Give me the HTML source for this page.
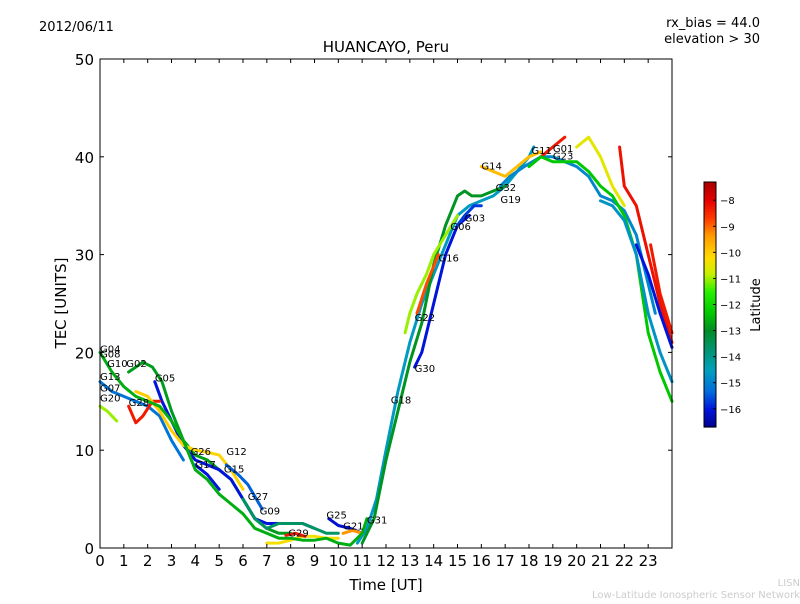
<!DOCTYPE html>
<html><head><meta charset="utf-8"><style>
body{margin:0;background:#fff;font-family:"DejaVu Sans","Liberation Sans",sans-serif}
svg text{font-family:"DejaVu Sans","Liberation Sans",sans-serif}
</style></head><body>
<svg id="c" width="800" height="600" xmlns="http://www.w3.org/2000/svg">
<rect width="800" height="600" fill="#fff"/>
<text x="39" y="31" font-size="13">2012/06/11</text>
<text x="760" y="27" font-size="13" text-anchor="end">rx_bias = 44.0</text>
<text x="760" y="43" font-size="13" text-anchor="end">elevation &gt; 30</text>
<text x="386" y="52" font-size="15" text-anchor="middle">HUANCAYO, Peru</text>
<text x="386" y="590" font-size="15" text-anchor="middle">Time [UT]</text>
<text x="66" y="303" font-size="15" text-anchor="middle" transform="rotate(-90 66 303)">TEC [UNITS]</text>
<text x="800" y="586" font-size="10" fill="#ccc" text-anchor="end">LISN</text>
<text x="800" y="598" font-size="10" fill="#ccc" text-anchor="end">Low-Latitude Ionospheric Sensor Network</text>
<g id="plot"></g>
<g id="cbar"></g>
</svg>
<script>
const xTicks=[0,1,2,3,4,5,6,7,8,9,10,11,12,13,14,15,16,17,18,19,20,21,22,23];
const yTicks=[0,10,20,30,40,50];
const cbTicks=[-8,-9,-10,-11,-12,-13,-14,-15,-16];
const names=["G04","G07","G02","G05","G28","G08","G26","G17","G15","G27","G29","G09","G25","G21","G31","G18","G22","G30","G16","G06","G14","G19","G01","S26","S27","S28","S29","S30","S31","G13"];
const lats=[-15.2,-11,-12.8,-16,-8.3,-10,-10.1,-16,-15.4,-13.6,-10.3,-8.3,-16.1,-9.3,-14.6,-12.9,-11,-16,-8.8,-15.7,-9.8,-14.9,-8.3,-10.5,-12.3,-8.2,-8.3,-16,-14.7,-12.6];
const times=[
[0,0.5,1,1.5,2,2.5,3,3.5],
[0,0.3,0.7],
[1.2,1.5,1.8,2.2,2.6,3,3.5,4,4.5,5,5.5,6,6.5,7,7.5,8],
[2.3,2.6,3,3.5,4,4.5,5,5.5,6,6.5,7,7.5,8,8.5,9],
[1.2,1.5,1.8,2.2,2.5],
[1.5,2,2.5,3,3.5,4],
[3.5,4,4.5,5,5.5,6],
[4,4.5,5],
[5.3,5.8,6.2,6.8],
[6,6.5,7,7.5,8,8.5,9,9.5,10],
[7,7.5,8,8.5,9,9.5,10],
[7.8,8.2,8.6],
[9.6,10,10.5,11],
[10.2,10.6,11],
[10.8,11.2,11.6,12,12.5,13,13.5,14,14.5,15,15.5,16,16.5,17,17.5,18,18.2],
[11,11.5,12,12.5,13,13.5,14,14.5,15,15.3,15.6,16,16.5,17],
[12.8,13,13.3,13.7,14,14.5,15],
[13.2,13.5,14,14.5,15,15.5],
[13.3,13.7,14.2],
[15,15.3,15.7,16],
[16,16.5,17,17.5,18,18.5],
[16.8,17.2,17.8,18.5,19,19.5,20,20.5,21,21.5,22,22.5,23,23.3],
[18.5,19,19.5],
[20,20.5,21,21.5,22],
[18,18.5,19,19.5,20,20.5,21,21.5,22,22.5,23,23.5,24],
[21.8,22,22.5,23,23.5,24],
[23.1,23.5,24],
[22.5,23,23.5,24],
[21,21.5,22,22.5,23,23.5,24],
[0,0.5,1,1.5,2,2.5,3,3.5,4,4.5,5,5.5,6,6.5,7,7.5,8,8.5,9,9.5,10,10.5,11,11.2]
];
const tecs=[
[17,16,15.5,15,14.5,13.5,11,9],
[14.5,14,13],
[18,18.5,19,18.5,17,14,11,9.5,9,8,7,5,3,2,1.5,1.5],
[17,15,13,10.5,9,8.5,8,7,5,3,2.5,2.5,2.5,2.5,2],
[14.5,12.8,13.5,15,15],
[16,15.5,14,12,10.5,10],
[10.5,10,9.8,9.5,8,6],
[8.5,7.5,6],
[8.5,7.5,6.5,4],
[5,3,2,2.5,2.5,2.5,2,1.5,1.5],
[0.5,0.5,0.8,1.2,1.2,1,1],
[1.3,1.5,1.2],
[3,2.3,2,1.5],
[1.5,1.8,1.5],
[0.5,2,5,10,16,21,25,28,31,34,35,35.5,36,37,38.5,40,41],
[0.5,3,9,14,19,23,29,33,36,36.5,36,36,36.5,37],
[22,24,26,28,30,32,34],
[18.5,20,25,30,33,34],
[24,27,30],
[33,34,35,35],
[39,38.5,38,39,40,40.5],
[37,38,39,40,40,39.5,39,38,36,35.5,34.5,32,27,24],
[40,41,42],
[41,42,40,37,35],
[39,40,39.5,39.5,39.5,38.5,37,36,34,30,22,18,15],
[41,37,35,30,25,21],
[31,26,22],
[31,28,24,20.5],
[35.5,35,33.5,30,24,20,17],
[20,18,16.5,15.5,15,14.5,13,11,8,7,5.5,4.5,3.5,2,1.5,1,1,0.8,0.8,1,0.5,0.3,1.5,3]
];
const labelText=["G04","G08","G10","G13","G07","G20","G02","G05","G28","G26","G17","G12","G15","G27","G09","G29","G25","G21","G31","G18","G22","G30","G16","G06","G03","G14","G32","G19","G01","G11","G23"];
const labelT=[0,0,0.3,0,0,0,1.1,2.3,1.2,3.8,4,5.3,5.2,6.2,6.7,7.9,9.5,10.2,11.2,12.2,13.2,13.2,14.2,14.7,15.3,16,16.6,16.8,19,18.1,19];
const labelV=[20,19.5,18.5,17.2,16,15,18.5,17,14.5,9.5,8.2,9.5,7.7,4.9,3.4,1.2,3,1.9,2.5,14.8,23.2,18,29.3,32.5,33.4,38.7,36.5,35.3,40.5,40.3,39.7];
const X0=100,X1=672,Y0=548,Y1=59;
const sx=t=>X0+t*(X1-X0)/24, sy=v=>Y0-v*(Y0-Y1)/50;
const latMin=-16.7,latMax=-7.3;
const CSTOPS=[[-16.7,[0,0,140]],[-16.0,[0,20,220]],[-15.3,[0,110,220]],[-14.5,[0,160,190]],[-13.8,[0,150,120]],[-13.0,[0,140,40]],[-12.3,[0,200,0]],[-11.5,[40,240,0]],[-10.8,[200,240,0]],[-10.2,[255,220,0]],[-9.3,[255,150,0]],[-8.7,[255,60,0]],[-8.0,[230,0,0]],[-7.3,[170,0,0]]];
function cmap(l){l=Math.max(latMin,Math.min(latMax,l));for(let i=0;i<CSTOPS.length-1;i++){const a=CSTOPS[i],b=CSTOPS[i+1];if(l>=a[0]&&l<=b[0]){const f=(l-a[0])/(b[0]-a[0]);const c=a[1].map((v,k)=>Math.round(v+(b[1][k]-v)*f));return `rgb(${c[0]},${c[1]},${c[2]})`;}}return 'rgb(170,0,0)';}
const NS="http://www.w3.org/2000/svg";
const plot=document.getElementById('plot');
function mk(tag,attrs,parent){const e=document.createElementNS(NS,tag);for(const k in attrs)e.setAttribute(k,attrs[k]);parent.appendChild(e);return e;}
for(let i=0;i<times.length;i++){
 const pts=times[i].map((t,j)=>sx(t).toFixed(1)+","+sy(tecs[i][j]).toFixed(1)).join(" ");
 const p=mk('polyline',{points:pts,fill:'none',stroke:cmap(lats[i]),'stroke-width':3,'stroke-linejoin':'round','stroke-linecap':'round'},plot);
 
 
}
for(let i=0;i<labelText.length;i++){
 const t=mk('text',{x:sx(labelT[i]),y:sy(labelV[i]),'font-size':10},plot);
 t.textContent=labelText[i];
 
 
}
const fr=mk('rect',{x:X0,y:Y1,width:X1-X0,height:Y0-Y1,fill:'none',stroke:'#000','stroke-width':1},plot);


xTicks.forEach(t=>{const x=sx(t);
 mk('line',{x1:x,x2:x,y1:Y0,y2:Y0-4,stroke:'#000'},plot);mk('line',{x1:x,x2:x,y1:Y1,y2:Y1+4,stroke:'#000'},plot);
 const tx=mk('text',{x:x,y:Y0+18,'font-size':15,'text-anchor':'middle'},plot);tx.textContent=t;
 
 });
yTicks.forEach(v=>{const y=sy(v);
 mk('line',{x1:X0,x2:X0+4,y1:y,y2:y,stroke:'#000'},plot);mk('line',{x1:X1,x2:X1-4,y1:y,y2:y,stroke:'#000'},plot);
 const tx=mk('text',{x:X0-6,y:y+6,'font-size':15,'text-anchor':'end'},plot);tx.textContent=v;
 
 });
const cb=document.getElementById('cbar');const CX=704,CW=12,CT=182,CB=427;
const cy=l=>CB-(l-latMin)/(latMax-latMin)*(CB-CT);
for(let k=0;k<100;k++){const f=(k+0.5)/100;mk('rect',{x:CX,y:CB-(k+1)*(CB-CT)/100,width:CW,height:(CB-CT)/100+0.6,fill:cmap(latMin+f*(latMax-latMin))},cb);}
const cbf=mk('rect',{x:CX,y:CT,width:CW,height:CB-CT,fill:'none',stroke:'#000'},cb);


cbTicks.forEach(l=>{const y=cy(l);mk('line',{x1:CX+CW-3,x2:CX+CW,y1:y,y2:y,stroke:'#000'},cb);
 const tx=mk('text',{x:CX+CW+4,y:y+4,'font-size':10},cb);tx.textContent='\u2212'+Math.abs(l);
 
 });
const ct=mk('text',{x:760,y:305,'font-size':13,'text-anchor':'middle',transform:'rotate(-90 760 305)'},cb);ct.textContent='Latitude';


</script>
</body></html>
